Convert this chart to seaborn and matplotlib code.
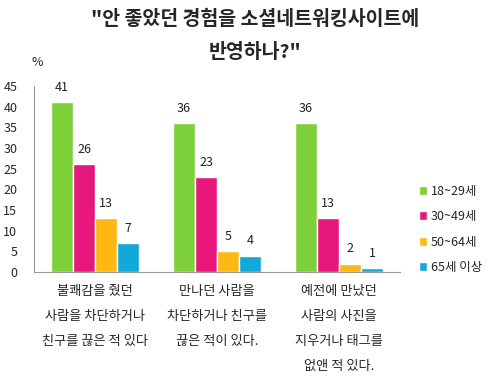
import pandas as pd
import matplotlib
matplotlib.use('Agg')
import matplotlib.pyplot as plt
import seaborn as sns

# ── Data ────────────────────────────────────────────────────────────────
categories = [
    '불쾌감을 줬던\n사람을 차단하거나\n친구를 끊은 적 있다',
    '만나던 사람을\n차단하거나 친구를\n끊은 적이 있다.',
    '예전에 만났던\n사람의 사진을\n지우거나 태그를\n없앤 적 있다.',
]
age_groups = ['18~29세', '30~49세', '50~64세', '65세 이상']
values = {
    '18~29세':  [41, 36, 36],
    '30~49세':  [26, 23, 13],
    '50~64세':  [13, 5, 2],
    '65세 이상': [7, 4, 1],
}
palette = ['#7ED03B', '#E8177C', '#FDB813', '#11A9D8']
yticks = [0, 5, 10, 15, 20, 25, 30, 35, 40, 45]

rows = []
for g in age_groups:
    for c, v in zip(categories, values[g]):
        rows.append({'cat': c, 'age': g, 'val': v})
df = pd.DataFrame(rows)

# ── Plot ────────────────────────────────────────────────────────────────
sns.set_style('white')
plt.rcParams['font.family'] = ['Noto Sans CJK KR', 'DejaVu Sans']

fig = plt.figure(figsize=(5, 3.8), dpi=100)
ax = fig.add_axes([0.068, 0.284, 0.732, 0.49])

sns.barplot(data=df, x='cat', y='val', hue='age', palette=palette,
            width=0.72, ax=ax, saturation=1, legend=True)

for cont in ax.containers:
    ax.bar_label(cont, fmt='%d', padding=6, fontsize=9, color='#222222')

ax.set_ylim(0, 45)
ax.set_xlim(-0.5, 2.5)
ax.set_yticks(yticks)
ax.tick_params(axis='y', labelsize=9, length=0, pad=12)
ax.tick_params(axis='x', length=0, pad=9)
ax.set_xticks(range(len(categories)))
ax.set_xticklabels(categories, fontsize=9.5, linespacing=2.2, va='top',
                   fontweight='medium')
ax.set_xlabel('')
ax.set_ylabel('')
for s in ['top', 'right']:
    ax.spines[s].set_visible(False)
for s in ['left', 'bottom']:
    ax.spines[s].set_color('#999999')
    ax.spines[s].set_linewidth(0.8)

ax.legend(loc='center left', bbox_to_anchor=(1.02, 0.23), frameon=False,
          fontsize=9, handlelength=0.7, handleheight=0.7,
          handletextpad=0.3, labelspacing=1.0)

fig.text(0.062, 0.825, '%', fontsize=9, ha='left')
fig.text(0.51, 0.975, '"안 좋았던 경험을 소셜네트워킹사이트에\n반영하나?"',
         ha='center', va='top', fontsize=14, fontweight='bold',
         linespacing=1.95)

plt.savefig('out.png', dpi=100)
